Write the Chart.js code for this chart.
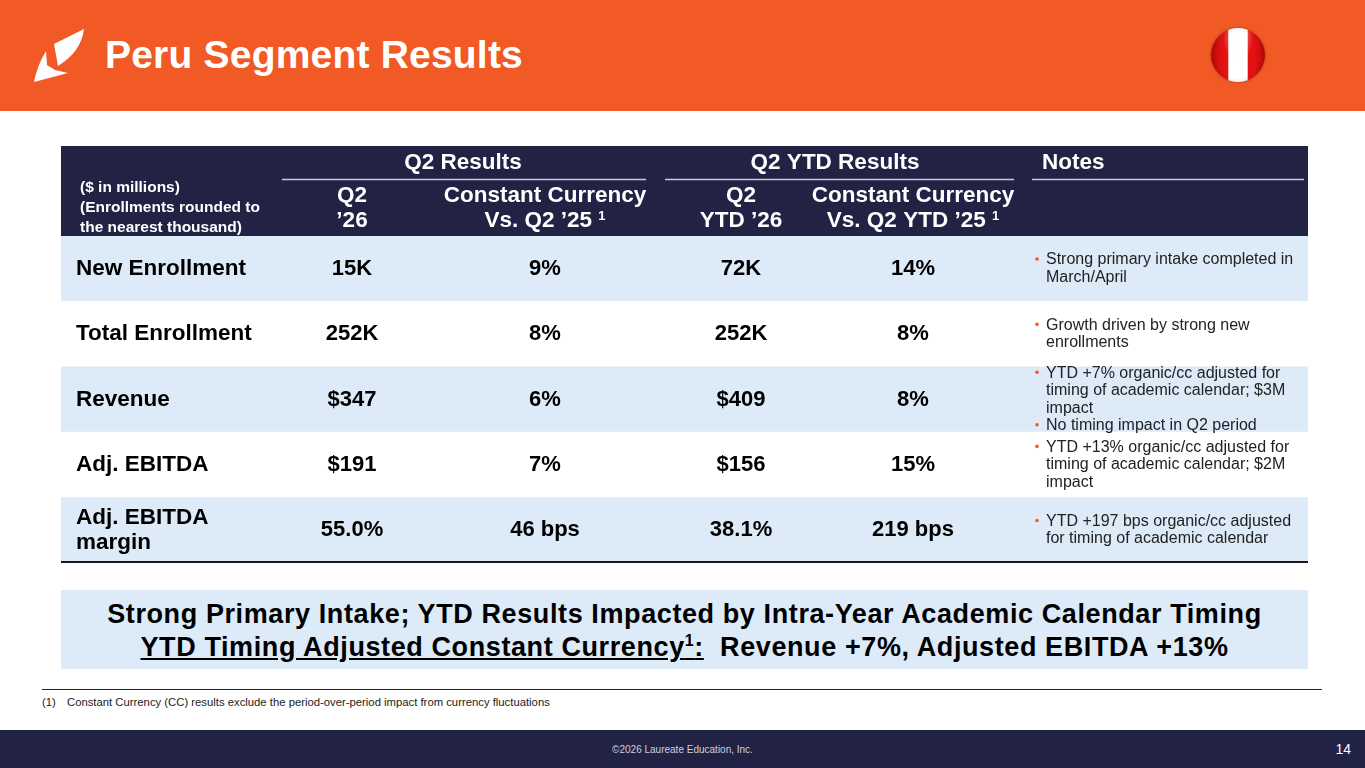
<!DOCTYPE html>
<html>
<head>
<meta charset="utf-8">
<script src="https://cdn.jsdelivr.net/npm/chart.js@4.4.1/dist/chart.umd.min.js"></script>
<style>
  html, body { margin: 0; padding: 0; }
  body { width: 1365px; height: 768px; position: relative; overflow: hidden; background: #fff;
         font-family: "Liberation Sans", Arial, sans-serif; }
  #topBar { position: absolute; left: 0; top: 0; width: 1365px; height: 111px; background: #F15A24; }
  #title { position: absolute; left: 105px; top: 33px; color: #fff; font-weight: bold; font-size: 39px; line-height: 44px; letter-spacing: 0.2px; }
  #logo { position: absolute; left: 0; top: 0; }
  #flag { position: absolute; left: 1211px; top: 28px; width: 54px; height: 54px; border-radius: 50%;
          background: linear-gradient(to right, #b80707 0, #e31212 20%, #e31212 31%, #fff 33%, #fff 67%, #e31212 69%, #e31212 80%, #b80707 100%);
          box-shadow: 0 0 3px rgba(0,0,0,0.35); overflow: hidden; }
  #flag::after { content: ""; position: absolute; left: 0; top: 0; width: 100%; height: 100%; border-radius: 50%;
          background: radial-gradient(ellipse at 50% 15%, rgba(255,255,255,0.6) 0, rgba(255,255,255,0) 40%),
                      radial-gradient(circle at 50% 50%, rgba(0,0,0,0) 60%, rgba(0,0,0,0.25) 100%); }
  #tableBox { position: absolute; left: 61px; top: 146px; width: 1247px; height: 417px; }
  #summary { position: absolute; left: 61px; top: 590px; width: 1247px; height: 79px; background: #DDEAF8;
             text-align: center; font-weight: bold; font-size: 27px; letter-spacing: 0.6px; line-height: 33px; color: #000; padding-top: 8px; box-sizing: border-box; }
  #summary sup { font-size: 16px; line-height: 0; vertical-align: 10px; }
  #noteLine { position: absolute; left: 42px; top: 689px; width: 1280px; height: 0; border-top: 1.5px solid #222; }
  #footnote { position: absolute; left: 42px; top: 696px; font-size: 11.3px; color: #222; }
  #footnote span { display: inline-block; width: 25px; }
  #footer { position: absolute; left: 0; top: 730px; width: 1365px; height: 38px; background: #222244; }
  #copy { position: absolute; left: 0; width: 1365px; top: 744px; text-align: center; font-size: 10px; color: #d0d0dc; }
  #page { position: absolute; right: 14px; top: 741px; font-size: 14px; color: #fff; }
</style>
</head>
<body>
<div id="topBar"></div>
<svg id="logo" width="100" height="100" viewBox="0 0 100 100">
  <path d="M54,44 L84,29 Q81,52 58,66 Z" fill="#fff"/>
  <path d="M46,51 Q37,66 34,82 L68,73 L55,70 L47,65 Z" fill="#fff"/>
</svg>
<div id="title">Peru Segment Results</div>
<div id="flag"></div>

<div id="tableBox"><canvas id="tableChart"></canvas></div>

<div id="summary">Strong Primary Intake; YTD Results Impacted by Intra-Year Academic Calendar Timing<br><u>YTD Timing Adjusted Constant Currency<sup>1</sup>:</u>&nbsp; Revenue +7%, Adjusted EBITDA +13%</div>
<div id="noteLine"></div>
<div id="footnote"><span>(1)</span>Constant Currency (CC) results exclude the period-over-period impact from currency fluctuations</div>

<div id="footer"></div>
<div id="copy">©2026 Laureate Education, Inc.</div>
<div id="page">14</div>

<script>
// table content
const rowLabels = ["New Enrollment", "Total Enrollment", "Revenue", "Adj. EBITDA", ["Adj. EBITDA", "margin"]];
const q2Values = ["15K", "252K", "$347", "$191", "55.0%"];
const q2Growth = ["9%", "8%", "6%", "7%", "46 bps"];
const ytdValues = ["72K", "252K", "$409", "$156", "38.1%"];
const ytdGrowth = ["14%", "8%", "8%", "15%", "219 bps"];
const notes = [
	[["Strong primary intake completed in", "March/April"]],
	[["Growth driven by strong new", "enrollments"]],
	[["YTD +7% organic/cc adjusted for", "timing of academic calendar; $3M", "impact"], ["No timing impact in Q2 period"]],
	[["YTD +13% organic/cc adjusted for", "timing of academic calendar; $2M", "impact"]],
	[["YTD +197 bps organic/cc adjusted", "for timing of academic calendar"]]
];
const groupHeaders = ["Q2 Results", "Q2 YTD Results", "Notes"];
const colHeaders = [["Q2", "\u201926"], ["Constant Currency", "Vs. Q2 \u201925"], ["Q2", "YTD \u201926"], ["Constant Currency", "Vs. Q2 YTD \u201925"]];
const unitNote = ["($ in millions)", "(Enrollments rounded to", "the nearest thousand)"];

// layout (table px units)
const tableWidth = 1247;
const headerHeight = 90;
const labelX = 15;
const colCenters = [291, 484, 680, 852];
const groupX = [402, 774, 981];
const groupLines = [[221, 585], [604, 953], [971, 1243]];
const bulletX = 976;
const noteX = 985;
const FONT = "'Liberation Sans', Arial, sans-serif";
const NAVY = "#222244";
const ROW_BLUE = "#DDEAF8";

const tablePlugin = {
	id: "tableText",
	beforeDatasetsDraw(chart) {
		const ctx = chart.ctx;
		const x = chart.scales.x;
		const top = chart.chartArea.top;
		ctx.save();
		ctx.fillStyle = NAVY;
		ctx.fillRect(0, 0, chart.width, top);

		ctx.fillStyle = "#fff";
		ctx.textBaseline = "middle";
		ctx.font = "bold 22.5px " + FONT;
		groupHeaders.forEach((t, i) => {
			ctx.textAlign = i < 2 ? "center" : "left";
			ctx.fillText(t, x.getPixelForValue(groupX[i]), 17);
		});
		ctx.strokeStyle = "#c9c9d9";
		ctx.lineWidth = 1.5;
		groupLines.forEach(l => {
			ctx.beginPath();
			ctx.moveTo(x.getPixelForValue(l[0]), 33.5);
			ctx.lineTo(x.getPixelForValue(l[1]), 33.5);
			ctx.stroke();
		});

		colHeaders.forEach((lines, i) => {
			const cx = x.getPixelForValue(colCenters[i]);
			ctx.font = "bold 22.5px " + FONT;
			ctx.textAlign = "center";
			ctx.fillText(lines[0], cx, 50);
			if (i === 1 || i === 3) {
				// second line carries the footnote mark
				const main = lines[1];
				const w1 = ctx.measureText(main + " ").width;
				ctx.font = "bold 13px " + FONT;
				const w2 = ctx.measureText("1").width;
				const start = cx - (w1 + w2) / 2;
				ctx.textAlign = "left";
				ctx.font = "bold 22.5px " + FONT;
				ctx.fillText(main, start, 75);
				ctx.font = "bold 13px " + FONT;
				ctx.fillText("1", start + w1, 70);
			} else {
				ctx.fillText(lines[1], cx, 75);
			}
		});

		ctx.font = "bold 15.5px " + FONT;
		ctx.textAlign = "left";
		unitNote.forEach((t, i) => ctx.fillText(t, x.getPixelForValue(19), 42 + i * 20));
		ctx.restore();
	},
	afterDatasetsDraw(chart) {
		const ctx = chart.ctx;
		const x = chart.scales.x;
		const y = chart.scales.y;
		ctx.save();
		ctx.textBaseline = "middle";
		rowLabels.forEach((label, i) => {
			const cy = y.getPixelForValue(i);
			ctx.fillStyle = "#000";
			ctx.font = "bold 22.5px " + FONT;
			ctx.textAlign = "left";
			const lab = Array.isArray(label) ? label : [label];
			lab.forEach((t, k) => ctx.fillText(t, x.getPixelForValue(labelX), cy + (k - (lab.length - 1) / 2) * 25));

			ctx.font = "bold 22px " + FONT;
			ctx.textAlign = "center";
			[q2Values, q2Growth, ytdValues, ytdGrowth].forEach((col, c) => {
				ctx.fillText(col[i], x.getPixelForValue(colCenters[c]), cy);
			});

			const lh = 17.5;
			const total = notes[i].reduce((s, b) => s + b.length, 0);
			let ly = cy - (total - 1) * lh / 2;
			ctx.font = "16px " + FONT;
			ctx.textAlign = "left";
			notes[i].forEach(bullet => {
				ctx.fillStyle = "#F15A24";
				ctx.beginPath();
				ctx.arc(x.getPixelForValue(bulletX), ly - 1, 1.8, 0, Math.PI * 2);
				ctx.fill();
				ctx.fillStyle = "#222";
				bullet.forEach(t => {
					ctx.fillText(t, x.getPixelForValue(noteX), ly);
					ly += lh;
				});
			});
		});
		ctx.strokeStyle = "#1a1a1a";
		ctx.lineWidth = 2;
		ctx.beginPath();
		ctx.moveTo(chart.chartArea.left, chart.chartArea.bottom - 1);
		ctx.lineTo(chart.chartArea.right, chart.chartArea.bottom - 1);
		ctx.stroke();
		ctx.restore();
	}
};

document.addEventListener("DOMContentLoaded", () => {
	const ctx = document.getElementById("tableChart");
	window.tableChart = new Chart(ctx, {
		type: "bar",
		data: {
			labels: rowLabels.map(l => Array.isArray(l) ? l.join(" ") : l),
			datasets: [{
				data: rowLabels.map(() => [0, tableWidth]),
				backgroundColor: rowLabels.map((l, i) => i % 2 === 0 ? ROW_BLUE : "#ffffff"),
				borderWidth: 0,
				barPercentage: 1,
				categoryPercentage: 1
			}]
		},
		options: {
			indexAxis: "y",
			responsive: true,
			maintainAspectRatio: false,
			animation: false,
			layout: { padding: { top: headerHeight, left: 0, right: 0, bottom: 0 } },
			plugins: {
				legend: { display: false },
				tooltip: { enabled: false },
				title: { display: false }
			},
			scales: {
				x: { type: "linear", min: 0, max: tableWidth, display: false },
				y: { type: "category", display: false }
			}
		},
		plugins: [tablePlugin]
	});
});
</script>
</body>
</html>
